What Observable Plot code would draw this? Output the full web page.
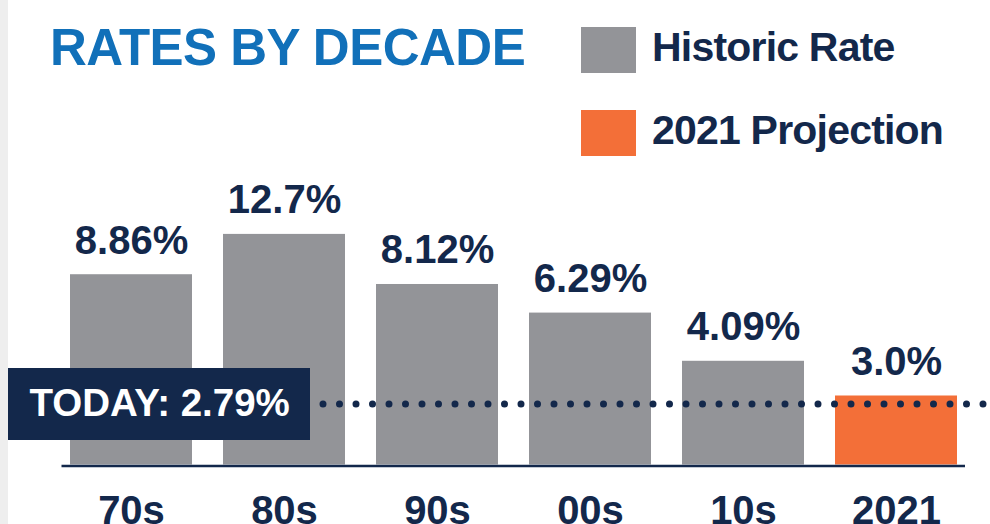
<!DOCTYPE html>
<html>
<head>
<meta charset="utf-8">
<script src="https://cdn.jsdelivr.net/npm/d3@7"></script>
<script src="https://cdn.jsdelivr.net/npm/@observablehq/plot@0.6"></script>
<style>
  html, body { margin: 0; padding: 0; background: #ffffff; overflow: hidden; }
  #wrap { position: relative; width: 990px; height: 524px; font-family: "Liberation Sans", Arial, Helvetica, sans-serif; }
  #strip { position: absolute; left: 0; top: 0; width: 8px; height: 524px; background: #eeeeee; }
  #header { position: absolute; left: 0; top: 0; width: 990px; height: 165px; }
  #title { position: absolute; left: 50px; top: 21.8px; font-size: 51px; line-height: 51px; font-weight: bold; color: #1170b9; letter-spacing: -0.5px; white-space: nowrap; }
  .legend-item { position: absolute; left: 581px; height: 46px; }
  .legend-swatch { position: absolute; left: 0; top: 0; width: 55px; height: 46px; }
  .legend-label { position: absolute; left: 71px; font-size: 41px; line-height: 41px; font-weight: bold; color: #13284b; letter-spacing: -0.8px; white-space: nowrap; }
  #chart { position: absolute; left: 0; top: 165px; }
</style>
</head>
<body>
<div id="wrap">
  <div id="strip"></div>
  <div id="header">
    <div id="title"></div>
    <div id="legend"></div>
  </div>
  <div id="chart"></div>
</div>
<script>
// ---- data ----
const titleText = "RATES BY DECADE";
const decades = ["70s", "80s", "90s", "00s", "10s", "2021"];
const rates = [8.86, 12.7, 8.12, 6.29, 4.09, 3.0];
const rateLabels = ["8.86%", "12.7%", "8.12%", "6.29%", "4.09%", "3.0%"];
const barSeries = ["Historic Rate", "Historic Rate", "Historic Rate", "Historic Rate", "Historic Rate", "2021 Projection"];
const seriesNames = ["Historic Rate", "2021 Projection"];
const seriesColors = ["#939498", "#f36f38"];
const todayRate = 2.79;
const todayLabel = "TODAY: 2.79%";

// ---- styles ----
const navy = "#13284b";
const yBase = 1.62; // baseline of the (log) value scale

const data = decades.map((d, i) => ({decade: d, rate: rates[i], label: rateLabels[i], series: barSeries[i]}));

// header
document.getElementById("title").textContent = titleText;
const legend = document.getElementById("legend");
seriesNames.forEach((name, i) => {
  const item = document.createElement("div");
  item.className = "legend-item";
  item.style.top = (27 + i * 83) + "px";
  const sw = document.createElement("div");
  sw.className = "legend-swatch";
  sw.style.background = seriesColors[i];
  const lab = document.createElement("div");
  lab.className = "legend-label";
  lab.style.top = "0.3px";
  lab.textContent = name;
  item.appendChild(sw);
  item.appendChild(lab);
  legend.appendChild(item);
});

const chart = Plot.plot({
  width: 990,
  height: 359,
  marginLeft: 61.5,
  marginRight: 25,
  marginTop: 68.9,
  marginBottom: 59.5,
  style: {fontFamily: "'Liberation Sans', Arial, Helvetica, sans-serif", background: "transparent", overflow: "visible"},
  x: {domain: decades, paddingInner: 0.2, paddingOuter: 0.035, label: null},
  y: {type: "log", domain: [yBase, 12.7], axis: null},
  color: {domain: seriesNames, range: seriesColors},
  marks: [
    Plot.barY(data, {x: "decade", y1: yBase, y2: "rate", fill: "series"}),
    Plot.ruleY([yBase], {stroke: navy, strokeWidth: 2.5, dy: 1}),
    Plot.ruleY([todayRate], {
      stroke: navy, strokeWidth: 7, strokeLinecap: "round",
      strokeDasharray: "0 16.5", strokeDashoffset: 2.5,
      insetLeft: -49.5, insetRight: -20
    }),
    Plot.ruleY([todayRate], {stroke: navy, strokeWidth: 72, insetLeft: -53.5, insetRight: 655}),
    Plot.text([todayLabel], {
      y: todayRate, frameAnchor: "left", text: d => d, textAnchor: "start", dx: -32.5,
      lineAnchor: "middle", fill: "#ffffff", fontSize: 38.5, fontWeight: "bold"
    }),
    Plot.text(data, {
      x: "decade", y: "rate", text: "label", dy: -21, lineAnchor: "bottom",
      fill: navy, fontSize: 40, fontWeight: "bold"
    }),
    Plot.axisX({tickSize: 0, tickPadding: 30.5, fontSize: 40, fontWeight: "bold", fill: navy, label: null})
  ]
});
document.getElementById("chart").appendChild(chart);
</script>
</body>
</html>
